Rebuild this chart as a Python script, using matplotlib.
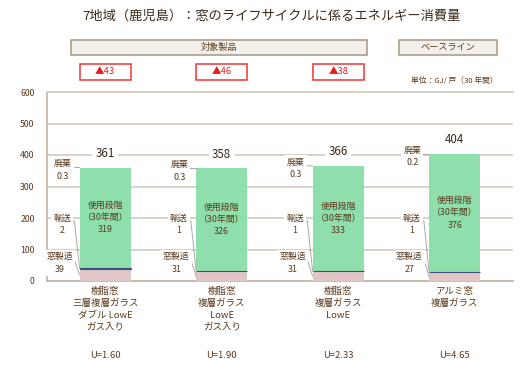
import matplotlib
matplotlib.use("Agg")
import matplotlib.pyplot as plt
from matplotlib.patches import Rectangle
from matplotlib.transforms import blended_transform_factory

plt.rcParams['font.family'] = ['Noto Sans CJK JP', 'DejaVu Sans']

# ---- data ----
categories = ['樹脂窓\n三層複層ガラス\nダブル LowE\nガス入り',
              '樹脂窓\n複層ガラス\nLowE\nガス入り',
              '樹脂窓\n複層ガラス\nLowE',
              'アルミ窓\n複層ガラス']
u_values = ['U=1.60', 'U=1.90', 'U=2.33', 'U=4.65']
manufacturing = [39, 31, 31, 27]
transport = [2, 1, 1, 1]
use_phase = [319, 326, 333, 376]
disposal = [0.3, 0.3, 0.3, 0.2]
totals = [361, 358, 366, 404]
reductions = ['▲43', '▲46', '▲38']
yticks = [0, 100, 200, 300, 400, 500, 600]

title = '7地域（鹿児島）：窓のライフサイクルに係るエネルギー消費量'
group_labels = ['対象製品', 'ベースライン']
unit_label = '単位：GJ/ 戸（30 年間）'
seg_names = ['廃棄', '輸送', '窓製造']
use_label = '使用段階\n（30年間）'

# ---- style ----
TXT = '#5a3a1c'
GRID = '#d8cfc3'
SPINE = '#c9b9a6'
GREEN = '#8edfab'
PINK = '#e1c6c8'
NAVY = '#3c4f80'
LEAD = '#a8a8a8'

W, H = 525, 370
fig = plt.figure(figsize=(W / 100, H / 100), dpi=100)
ax = fig.add_axes([47 / W, 1 - 281 / H, (513 - 47) / W, (281 - 92) / H])

x = list(range(len(categories)))
bw = 0.44

b1 = [m for m in manufacturing]
b2 = [m + t for m, t in zip(manufacturing, transport)]
b3 = [m + t + u for m, t, u in zip(manufacturing, transport, use_phase)]

ax.bar(x, manufacturing, bw, color=PINK, zorder=3)
ax.bar(x, transport, bw, bottom=b1, color=NAVY, edgecolor=NAVY, linewidth=0.8, zorder=4)
ax.bar(x, use_phase, bw, bottom=b2, color=GREEN, zorder=3)
ax.bar(x, disposal, bw, bottom=b3, color=GREEN, zorder=3)

ax.set_xlim(-0.5, len(categories) - 0.5)
ax.set_ylim(0, 600)
ax.set_yticks(yticks)
ax.set_yticklabels([str(v) for v in yticks])
ax.tick_params(axis='y', length=0, pad=9, labelsize=6.3, labelcolor=TXT)
ax.set_xticks([])
ax.yaxis.grid(True, color=GRID, linewidth=1.3, zorder=0)
ax.set_axisbelow(True)
ax.spines['right'].set_visible(False)
ax.spines['top'].set_color(GRID)
ax.spines['top'].set_linewidth(1.3)
for s in ['left', 'bottom']:
    ax.spines[s].set_color(SPINE)
    ax.spines[s].set_linewidth(1.3)

wbox = dict(facecolor='white', edgecolor='none', pad=1.5)
FS = 6.4

for i in x:
    # total label
    ax.annotate(str(totals[i]), (i, totals[i]), xytext=(0, 10), textcoords='offset points',
                ha='center', va='center', fontsize=8.3, color='#3a2a1a',
                bbox=dict(facecolor='white', edgecolor='none', pad=2.5), zorder=6)
    # use label inside
    ax.text(i, b2[i] + use_phase[i] / 2, f'{use_label}\n{use_phase[i]}', ha='center', va='center',
            fontsize=FS, color=TXT, linespacing=1.45, zorder=6)
    left = i - bw / 2
    # disposal
    ydis = totals[i] - 8
    ax.text(i - 0.365, ydis, f'{seg_names[0]}\n{disposal[i]}', ha='center', va='center',
            fontsize=FS, color=TXT, linespacing=1.5, bbox=wbox, zorder=6)
    ax.plot([i - 0.305, i - 0.265, left], [ydis + 8, ydis + 8, b3[i]], color=LEAD, lw=0.7, zorder=5)
    # transport
    ytr = 180
    ax.text(i - 0.37, ytr, f'{seg_names[1]}\n{transport[i]}', ha='center', va='center',
            fontsize=FS, color=TXT, linespacing=1.5, bbox=wbox, zorder=6)
    ax.plot([i - 0.315, i - 0.265, left], [ytr + 10, ytr + 10, b1[i] + transport[i] / 2],
            color=LEAD, lw=0.7, zorder=5)
    # manufacturing
    ymf = 57
    ax.text(i - 0.39, ymf, f'{seg_names[2]}\n{manufacturing[i]}', ha='center', va='center',
            fontsize=FS, color=TXT, linespacing=1.5, bbox=wbox, zorder=6)
    ax.plot([i - 0.30, i - 0.265, left], [ymf + 10, ymf + 10, manufacturing[i] / 2],
            color=LEAD, lw=0.7, zorder=5)

# category labels and U values
tr = blended_transform_factory(ax.transData, fig.transFigure)
for i in x:
    ax.text(i, 1 - 287 / H, categories[i], transform=tr, ha='center', va='top',
            fontsize=6.8, color=TXT, linespacing=1.35)
    ax.text(i, 1 - 355 / H, u_values[i], transform=tr, ha='center', va='center',
            fontsize=6.8, color=TXT)

# title
fig.text(271 / W, 1 - 16 / H, title, ha='center', va='center', fontsize=9.5, color='#3a2a1a')

# group header boxes
def px2x(p):
    return (p - 47) / 116.5 - 0.5

for (x0, x1), lab in zip([(71, 367), (399, 497)], group_labels):
    r = Rectangle((px2x(x0), 1 - 55 / H), px2x(x1) - px2x(x0), 15 / H, transform=tr,
                  facecolor='#f2f0ed', edgecolor='#a89580', linewidth=1.1, clip_on=False, zorder=1)
    ax.add_patch(r)
    ax.text((px2x(x0) + px2x(x1)) / 2, 1 - 47.5 / H, lab, transform=tr, ha='center',
            va='center', fontsize=6.6, color=TXT, zorder=7)

# reduction boxes
for i, lab in enumerate(reductions):
    r = Rectangle((i - bw / 2, 1 - 80 / H), bw, 16 / H, transform=tr,
                  facecolor='white', edgecolor='#ee3333', linewidth=1.1, clip_on=False, zorder=1)
    ax.add_patch(r)
    ax.text(i, 1 - 72 / H, lab, transform=tr, ha='center', va='center', fontsize=6.8,
            color='#e81c1c', zorder=7)

fig.text(498 / W, 1 - 81 / H, unit_label, ha='right', va='center', fontsize=5.6, color=TXT)

fig.savefig('out.png', dpi=100)
